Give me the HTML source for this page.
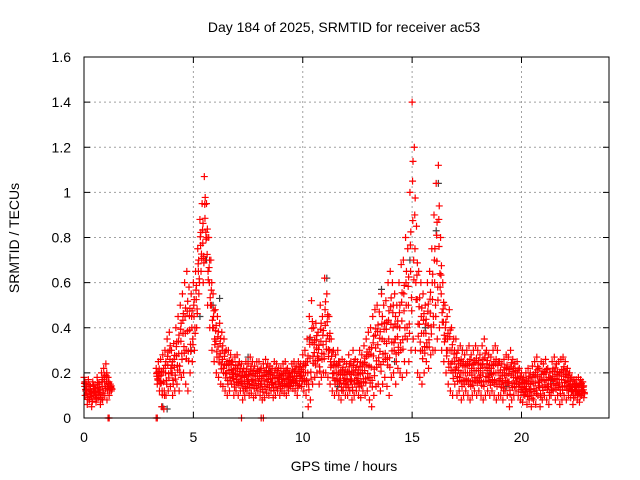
<!DOCTYPE html>
<html><head><meta charset="utf-8"><style>
body{margin:0;background:#fff;}
svg{display:block;font-family:"Liberation Sans",sans-serif;}
</style></head><body>
<svg id="chart" width="640" height="480" viewBox="0 0 640 480">
<rect width="640" height="480" fill="#fff"/>
<text x="344" y="32" font-size="14" text-anchor="middle">Day 184 of 2025, SRMTID for receiver ac53</text>
<text transform="translate(19,238) rotate(-90)" font-size="14" text-anchor="middle">SRMTID / TECUs</text>
<text x="344" y="471" font-size="14" text-anchor="middle">GPS time / hours</text>
<g id="grid"></g>
<g id="ticks"></g>
<g id="gray"></g>
<g id="red"></g>
<rect x="84" y="57" width="525" height="361" fill="none" stroke="#000" stroke-width="1"/>
</svg>
<script>
const xTicks=[0,5,10,15,20];
const yTicks=[0,0.2,0.4,0.6,0.8,1,1.2,1.4,1.6];
const yTickLabels=["0","0.2","0.4","0.6","0.8","1","1.2","1.4","1.6"];
const tStart=0, tStep=0.1;
const N=null;
const redUpper=[.18,.15,.17,.14,.16,.13,.18,.15,.2,.22,
.24,.18,.15,N,N,N,N,N,N,N,
N,N,N,N,N,N,N,N,N,N,
N,N,N,.22,.25,.26,.28,.3,.35,.38,
.3,.33,.4,.45,.5,.55,.6,.65,.58,.55,
.6,.65,.75,.88,.95,1.07,.95,.8,.7,.55,
.48,.45,.42,.38,.35,.3,.3,.28,.25,.27,
.28,.25,.24,.22,.25,.24,.27,.25,.23,.25,
.25,.22,.24,.26,.24,.23,.22,.25,.24,.22,
.22,.24,.25,.22,.2,.24,.25,.23,.25,.24,
.28,.3,.35,.45,.52,.4,.42,.38,.5,.45,
.62,.55,.45,.35,.3,.28,.3,.25,.26,.25,
.24,.28,.25,.3,.26,.25,.3,.28,.32,.35,
.38,.4,.45,.48,.5,.47,.55,.5,.52,.6,
.65,.6,.55,.5,.6,.68,.7,.8,.75,1.0,
1.4,1.2,.85,.65,.6,.55,.5,.6,.65,.75,
.9,1.04,1.12,.8,.6,.5,.45,.48,.4,.35,
.35,.3,.32,.3,.28,.3,.32,.28,.3,.32,
.3,.28,.32,.35,.3,.28,.27,.3,.32,.3,
.25,.24,.26,.28,.27,.3,.26,.24,.25,.22,
.2,.18,.2,.22,.2,.23,.25,.27,.22,.25,
.24,.26,.22,.2,.25,.27,.24,.25,.26,.27,
.25,.22,.2,.18,.17,.17,.18,.17,.16];
const redLower=[.1,.06,.08,.05,.1,.07,.09,.06,.08,.1,
.08,.1,.12,N,N,N,N,N,N,N,
N,N,N,N,N,N,N,N,N,N,
N,N,N,.15,.12,.05,.04,.1,.12,.14,
.1,.12,.15,.12,.18,.2,.15,.12,.2,.25,
.3,.4,.55,.65,.6,.7,.5,.4,.3,.25,
.2,.18,.15,.14,.12,.1,.12,.15,.1,.12,
.1,.12,.08,.1,.12,.1,.11,.09,.1,.12,
.1,.08,.09,.11,.1,.12,.09,.1,.12,.1,
.12,.11,.1,.12,.14,.13,.12,.1,.15,.14,
.12,.1,.05,.08,.15,.18,.2,.15,.18,.2,
.2,.18,.15,.12,.1,.12,.1,.08,.12,.1,
.1,.12,.08,.1,.12,.1,.09,.12,.1,.12,
.08,.05,.1,.14,.15,.12,.15,.18,.14,.1,
.18,.2,.15,.22,.2,.18,.25,.2,.25,.3,
.35,.3,.2,.18,.15,.2,.25,.22,.28,.3,
.3,.35,.4,.3,.25,.2,.15,.12,.1,.15,
.1,.12,.08,.1,.12,.1,.08,.1,.12,.1,
.12,.1,.08,.1,.12,.1,.12,.1,.08,.1,
.1,.08,.12,.1,.05,.08,.1,.12,.1,.08,
.07,.1,.06,.08,.05,.08,.06,.1,.05,.08,
.1,.08,.06,.1,.12,.08,.1,.06,.08,.1,
.08,.1,.09,.06,.1,.08,.07,.1,.09];
const zeroTimes=[1.1,1.15,3.3,3.35,7.2,8.1,8.2];
const grayTimes=[0.1,3.6,3.8,4.9,5.3,5.6,5.9,6.2,7.5,8.5,10.3,11.1,11.6,13.6,14.2,14.9,15.6,16.1,16.2,17.3,18.6,19.3,21.4,22.3];
const grayValues=[0.14,0.05,0.04,0.3,0.45,0.7,0.5,0.53,0.27,0.2,0.35,0.62,0.14,0.57,0.25,0.7,0.4,0.83,1.04,0.3,0.2,0.14,0.17,0.12];

const X0=84,X1=609,Y0=418,Y1=57,XMAX=24,YMAX=1.6;
const xs=t=>X0+t/XMAX*(X1-X0);
const ys=v=>Y0-v/YMAX*(Y0-Y1);
const NS="http://www.w3.org/2000/svg";
function mk(tag,attrs,parent){const e=document.createElementNS(NS,tag);for(const k in attrs)e.setAttribute(k,attrs[k]);parent.appendChild(e);return e;}
const grid=document.getElementById('grid'),ticks=document.getElementById('ticks');
xTicks.forEach(t=>{
  const x=xs(t);
  if(t>0){const l=mk('line',{x1:x,x2:x,y1:Y0,y2:Y1,stroke:'#a0a0a0','stroke-dasharray':'2,3'},grid);
  
  }
  mk('line',{x1:x,x2:x,y1:Y0,y2:Y0-6,stroke:'#000'},ticks);
  mk('line',{x1:x,x2:x,y1:Y1,y2:Y1+6,stroke:'#000'},ticks);
  const tx=mk('text',{x:x,y:Y0+24,'font-size':14,'text-anchor':'middle'},ticks);
  tx.textContent=t;
  
  
});
yTicks.forEach((v,i)=>{
  const y=ys(v);
  if(v>0&&v<YMAX){const l=mk('line',{x1:X0,x2:X1,y1:y,y2:y,stroke:'#a0a0a0','stroke-dasharray':'2,3'},grid);
  
  }
  mk('line',{x1:X0,x2:X0+6,y1:y,y2:y,stroke:'#000'},ticks);
  mk('line',{x1:X1,x2:X1-6,y1:y,y2:y,stroke:'#000'},ticks);
  const tx=mk('text',{x:X0-13,y:y+5,'font-size':14,'text-anchor':'end'},ticks);
  tx.textContent=yTickLabels[i];
  
  
});
function cross(g,t,v,color,name){
  const x=xs(t),y=ys(v);
  const p=mk('path',{d:`M${x-3.5},${y}h7M${x},${y-3.5}v7`,stroke:color,'stroke-width':1.2,fill:'none'},g);
  
  
}
const gG=document.getElementById('gray'),gR=document.getElementById('red');
grayTimes.forEach((t,i)=>cross(gG,t,grayValues[i],'#404040','gray-point'));
redUpper.forEach((v,i)=>{
  const t=tStart+i*tStep,lo=redLower[i];
  if(v===null)return;
  cross(gR,t,v,'#ff0000','red-point');
  cross(gR,t+0.05,lo,'#ff0000','red-point');
  cross(gR,t+0.03,(v+lo)/2,'#ff0000','red-point');
  cross(gR,t+0.07,(v+2*lo)/3,'#ff0000','red-point');
  cross(gR,t+0.02,(2*v+lo)/3,'#ff0000','red-point');
  cross(gR,t+0.08,(v+3*lo)/4,'#ff0000','red-point');
  cross(gR,t+0.04,(3*v+lo)/4,'#ff0000','red-point');
});
zeroTimes.forEach(t=>cross(gR,t,0,'#ff0000','zero-point'));
</script>
</body></html>
